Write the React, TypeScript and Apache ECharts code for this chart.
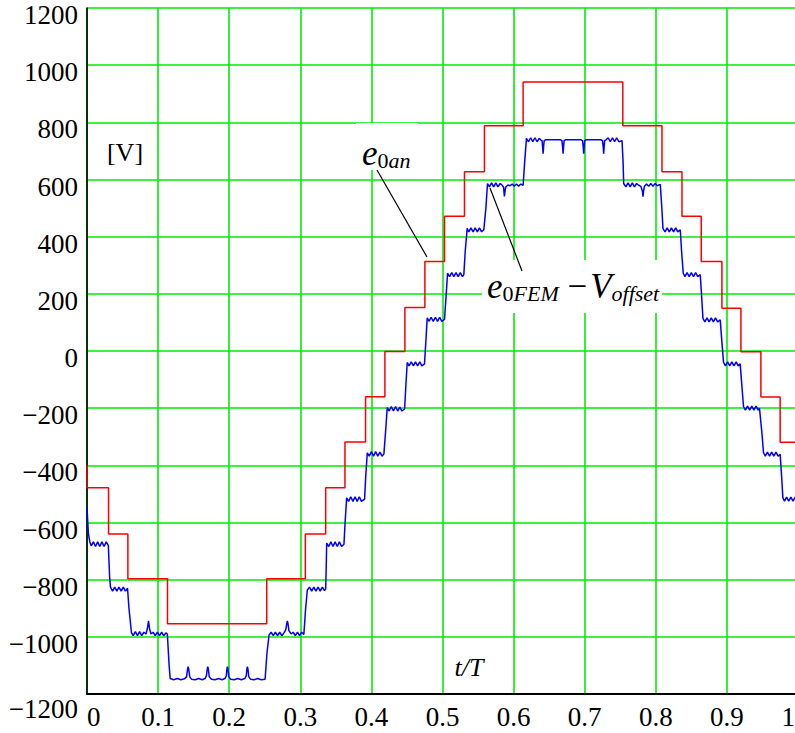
import React, { useEffect, useRef } from "react";
import * as echarts from "echarts";

// ---- axis ranges and tick labels ----
const X_MIN = 0;
const X_MAX = 1;
const X_STEP = 0.1;
const Y_MIN = -1200;
const Y_MAX = 1200;
const Y_STEP = 200;
const xTicks = [0, 0.1, 0.2, 0.3, 0.4, 0.5, 0.6, 0.7, 0.8, 0.9, 1];
const xTickLabels = ["0", "0.1", "0.2", "0.3", "0.4", "0.5", "0.6", "0.7", "0.8", "0.9", "1"];
const yTicks = [1200, 1000, 800, 600, 400, 200, 0, -200, -400, -600, -800, -1000, -1200];
const yTickLabels = ["1200", "1000", "800", "600", "400", "200", "0", "\u2212200", "\u2212400", "\u2212600", "\u2212800", "\u22121000", "\u22121200"];

// ---- e0an (red staircase) ----
const redStartValue = -400;
const redEdges = [
  0, 0.0303, 0.0575, 0.1132, 0.2528, 0.3071, 0.3357, 0.3628, 0.3918, 0.419,
  0.4471, 0.4752, 0.5028, 0.5309, 0.559, 0.6134, 0.7536, 0.8087, 0.8368,
  0.8639, 0.893, 0.9197, 0.9478, 0.9749, 1.0,
];
const redLevels = [
  -478, -640, -797, -954, -797, -640, -478, -318, -160, -2, 152, 313, 471,
  627, 788, 941, 788, 627, 471, 313, 150, -3, -161, -319,
];

// ---- e0FEM - Voffset (blue, read point by point) ----
const bluePoints: [number, number][] = [
  [0, -548], [0.002, -640], [0.004, -668],
  [0.006, -682], [0.009, -668], [0.012, -684], [0.015, -668], [0.018, -684], [0.021, -668], [0.024, -684], [0.027, -668], [0.03, -680],
  [0.0318, -790], [0.033, -826],
  [0.036, -840], [0.039, -826], [0.042, -840], [0.045, -826], [0.048, -840], [0.051, -826], [0.054, -840], [0.057, -830],
  [0.059, -900], [0.0625, -985],
  [0.065, -996], [0.068, -982], [0.071, -996], [0.074, -982], [0.077, -996], [0.08, -984], [0.083, -990], [0.085, -970], [0.0865, -944], [0.088, -972], [0.09, -990], [0.093, -984], [0.096, -996], [0.099, -984], [0.102, -996], [0.105, -984], [0.108, -996], [0.111, -986], [0.113, -990],
  [0.1155, -1100], [0.117, -1146],
  [0.122, -1150], [0.127, -1146], [0.132, -1150], [0.137, -1147], [0.14, -1140], [0.1415, -1112], [0.1422, -1104], [0.143, -1112], [0.1445, -1140], [0.147, -1148],
  [0.152, -1150], [0.157, -1146], [0.162, -1150], [0.166, -1146], [0.168, -1136], [0.1692, -1112], [0.1699, -1104], [0.1706, -1112], [0.172, -1140], [0.175, -1148],
  [0.18, -1150], [0.185, -1146], [0.19, -1150], [0.194, -1146], [0.196, -1136], [0.1968, -1112], [0.1975, -1104], [0.1982, -1112], [0.1995, -1140], [0.202, -1148],
  [0.207, -1150], [0.212, -1146], [0.217, -1150], [0.222, -1146], [0.224, -1136], [0.2249, -1112], [0.2256, -1104], [0.2263, -1112], [0.2276, -1140], [0.23, -1148],
  [0.235, -1150], [0.24, -1146], [0.245, -1150], [0.2505, -1148],
  [0.253, -1060], [0.256, -994],
  [0.259, -984], [0.262, -996], [0.265, -984], [0.268, -996], [0.271, -984], [0.274, -996], [0.277, -986], [0.2795, -976], [0.2808, -956], [0.2818, -944], [0.2828, -956], [0.284, -978], [0.287, -990], [0.29, -984], [0.293, -996], [0.296, -984], [0.299, -996], [0.302, -984], [0.305, -992],
  [0.3075, -900], [0.3099, -836],
  [0.313, -826], [0.316, -840], [0.319, -826], [0.322, -840], [0.325, -826], [0.328, -840], [0.331, -826], [0.334, -838], [0.3357, -832],
  [0.3365, -750], [0.3371, -672],
  [0.34, -684], [0.343, -668], [0.346, -684], [0.349, -668], [0.352, -684], [0.355, -668], [0.358, -684], [0.3614, -676],
  [0.363, -600], [0.3652, -514],
  [0.368, -526], [0.371, -510], [0.374, -526], [0.377, -510], [0.38, -526], [0.383, -510], [0.386, -526], [0.3904, -518],
  [0.392, -440], [0.3942, -356],
  [0.397, -368], [0.4, -352], [0.403, -368], [0.406, -352], [0.409, -368], [0.412, -354], [0.415, -368], [0.4176, -360],
  [0.42, -280], [0.4223, -198],
  [0.425, -210], [0.428, -194], [0.431, -210], [0.434, -194], [0.437, -210], [0.44, -196], [0.443, -210], [0.4467, -203],
  [0.4485, -120], [0.4504, -40],
  [0.453, -52], [0.456, -38], [0.459, -52], [0.462, -38], [0.465, -52], [0.468, -38], [0.471, -52], [0.4747, -45],
  [0.4765, 30], [0.4785, 116],
  [0.481, 104], [0.484, 118], [0.487, 104], [0.49, 118], [0.493, 104], [0.496, 118], [0.499, 104], [0.5028, 111],
  [0.505, 190], [0.5071, 272],
  [0.51, 260], [0.513, 274], [0.516, 260], [0.519, 274], [0.522, 260], [0.525, 274], [0.528, 260], [0.53, 267],
  [0.532, 350], [0.5347, 429],
  [0.537, 417], [0.54, 431], [0.543, 417], [0.546, 431], [0.549, 417], [0.552, 431], [0.555, 417], [0.5581, 424],
  [0.561, 500], [0.5633, 586],
  [0.566, 574], [0.569, 588], [0.572, 574], [0.575, 588], [0.578, 574], [0.581, 586], [0.584, 580], [0.586, 572], [0.5865, 555], [0.5871, 541], [0.5877, 555], [0.589, 574], [0.592, 581], [0.595, 578], [0.598, 584], [0.601, 576], [0.604, 584], [0.607, 576], [0.61, 584], [0.6134, 580],
  [0.6155, 660], [0.6181, 744],
  [0.621, 732], [0.624, 746], [0.627, 732], [0.63, 746], [0.633, 732], [0.636, 744], [0.638, 739], [0.64, 736], [0.6408, 715], [0.6415, 690], [0.6422, 715], [0.643, 736], [0.645, 739],
  [0.666, 739], [0.668, 736], [0.6689, 715], [0.6696, 690], [0.6703, 715], [0.671, 736], [0.673, 739],
  [0.695, 739], [0.697, 736], [0.6979, 715], [0.6986, 690], [0.6993, 715], [0.7, 736], [0.702, 739],
  [0.723, 739], [0.725, 736], [0.726, 715], [0.7267, 690], [0.7274, 715], [0.728, 736], [0.73, 739],
  [0.733, 746], [0.736, 732], [0.739, 746], [0.742, 732], [0.745, 746], [0.748, 732], [0.7525, 736],
  [0.754, 660], [0.7548, 586],
  [0.758, 574], [0.761, 588], [0.764, 574], [0.767, 588], [0.77, 574], [0.773, 586], [0.776, 580], [0.779, 576], [0.7813, 558], [0.782, 540], [0.7827, 558], [0.784, 576], [0.787, 584], [0.79, 576], [0.793, 586], [0.796, 576], [0.799, 586], [0.802, 578], [0.8063, 583],
  [0.8085, 500], [0.8101, 428],
  [0.813, 417], [0.816, 431], [0.819, 417], [0.822, 431], [0.825, 417], [0.828, 431], [0.831, 417], [0.8344, 424],
  [0.8365, 340], [0.8386, 272],
  [0.841, 260], [0.844, 274], [0.847, 260], [0.85, 274], [0.853, 260], [0.856, 274], [0.859, 260], [0.8625, 267],
  [0.8645, 190], [0.8663, 114],
  [0.869, 102], [0.872, 116], [0.875, 102], [0.878, 116], [0.881, 102], [0.884, 116], [0.887, 102], [0.8906, 109],
  [0.893, 30], [0.8953, -40],
  [0.898, -52], [0.901, -38], [0.904, -52], [0.907, -38], [0.91, -52], [0.913, -38], [0.916, -52], [0.9187, -45],
  [0.921, -120], [0.9234, -195],
  [0.926, -207], [0.929, -193], [0.932, -207], [0.935, -193], [0.938, -207], [0.941, -193], [0.944, -207], [0.9458, -200],
  [0.949, -280], [0.9515, -356],
  [0.954, -368], [0.957, -354], [0.96, -368], [0.963, -354], [0.966, -368], [0.969, -354], [0.972, -368], [0.9749, -361],
  [0.977, -440], [0.9787, -513],
  [0.981, -525], [0.984, -511], [0.987, -525], [0.99, -511], [0.993, -525], [0.996, -511], [1.0, -518],
];

const SERIF = "Liberation Serif";
const GRID_GREEN = "#00ee00";
const CHART_W = 795;

export default function App() {
  const ref = useRef<HTMLDivElement>(null);

  useEffect(() => {
    if (!ref.current) return;
    const chart = echarts.init(ref.current, undefined, { renderer: "svg" });

    const redData: [number, number][] = [[redEdges[0], redStartValue]];
    for (let i = 0; i < redLevels.length; i++) {
      redData.push([redEdges[i], redLevels[i]]);
      redData.push([redEdges[i + 1], redLevels[i]]);
    }

    chart.setOption({
      animation: false,
      backgroundColor: "#ffffff",
      grid: { left: 87, top: 8, width: 711, height: 686, containLabel: false, outerBoundsMode: "none" },
      xAxis: {
        type: "value",
        min: X_MIN,
        max: X_MAX,
        interval: X_STEP,
        axisLine: { show: true, onZero: false, lineStyle: { color: "#000", width: 2 } },
        axisTick: { show: false },
        axisLabel: { show: false },
        splitLine: { show: true, lineStyle: { color: GRID_GREEN, width: 1.6 } },
      },
      yAxis: {
        type: "value",
        min: Y_MIN,
        max: Y_MAX,
        interval: Y_STEP,
        axisLine: { show: true, onZero: false, lineStyle: { color: "#000", width: 1.6 } },
        axisTick: { show: false },
        axisLabel: { show: false },
        splitLine: { show: true, lineStyle: { color: GRID_GREEN, width: 1.6 } },
      },
      series: [
        {
          name: "e0FEM - Voffset",
          type: "line",
          data: bluePoints,
          symbol: "none",
          lineStyle: { color: "#0000ff", width: 1.5 },
          z: 3,
        },
        {
          name: "e0an",
          type: "line",
          data: redData,
          symbol: "none",
          lineStyle: { color: "#ff0000", width: 1.5 },
          z: 4,
        },
      ],
    });

    // tick labels placed through the axes' own scales
    const labelGraphics: any[] = [];
    xTicks.forEach((t, i) => {
      const [px, py] = chart.convertToPixel({ xAxisIndex: 0, yAxisIndex: 0 }, [t, Y_MIN]) as number[];
      const isFirst = i === 0;
      const isLast = i === xTicks.length - 1;
      labelGraphics.push({
        type: "text",
        x: isLast ? Math.min(px, CHART_W) : px,
        y: py + 23,
        z: 12,
        style: {
          text: xTickLabels[i],
          fontFamily: SERIF,
          fontSize: 27,
          fill: "#000",
          align: isFirst ? "left" : isLast ? "right" : "center",
          verticalAlign: "middle",
        },
      });
    });
    yTicks.forEach((v, i) => {
      const [px, py] = chart.convertToPixel({ xAxisIndex: 0, yAxisIndex: 0 }, [X_MIN, v]) as number[];
      const dy = v === Y_MIN ? 15 : 7;
      labelGraphics.push({
        type: "text",
        x: px - 9,
        y: py + dy,
        z: 12,
        style: {
          text: yTickLabels[i],
          fontFamily: SERIF,
          fontSize: 27,
          fill: "#000",
          align: "right",
          verticalAlign: "middle",
        },
      });
    });

    const sub = { fontFamily: SERIF, fontSize: 22, fontStyle: "italic" as const, color: "#000", lineHeight: 24, verticalAlign: "bottom" as const };
    const zero = { fontFamily: SERIF, fontSize: 22, color: "#000", lineHeight: 24, verticalAlign: "bottom" as const };
    const main = { fontFamily: SERIF, fontSize: 35, fontStyle: "italic" as const, color: "#000", lineHeight: 40, verticalAlign: "bottom" as const };
    const minus = { fontFamily: SERIF, fontSize: 35, color: "#000", lineHeight: 40, verticalAlign: "bottom" as const };

    chart.setOption({
      graphic: [
        { type: "rect", shape: { x: 356, y: 123, width: 62, height: 47 }, style: { fill: "#ffffff" }, z: 10 },
        { type: "rect", shape: { x: 482, y: 260, width: 180, height: 53 }, style: { fill: "#ffffff" }, z: 10 },
        { type: "line", shape: { x1: 377, y1: 170, x2: 427, y2: 257 }, style: { stroke: "#000", lineWidth: 1.2 }, z: 11 },
        { type: "line", shape: { x1: 490, y1: 188, x2: 522, y2: 271 }, style: { stroke: "#000", lineWidth: 1.2 }, z: 11 },
        {
          type: "text", x: 125, y: 152, z: 12,
          style: { text: "[V]", fontFamily: SERIF, fontSize: 26, fill: "#000", align: "center", verticalAlign: "middle" },
        },
        {
          type: "text", x: 469, y: 667, z: 12,
          style: { text: "t/T", fontFamily: SERIF, fontSize: 26, fontStyle: "italic", fill: "#000", align: "center", verticalAlign: "middle" },
        },
        {
          type: "text", x: 362, y: 171, z: 12,
          style: {
            text: "{e|e}{z|0}{s|an}",
            align: "left",
            verticalAlign: "bottom",
            rich: { e: main, z: zero, s: sub },
          },
        },
        {
          type: "text", x: 487, y: 304, z: 12,
          style: {
            text: "{e|e}{z|0}{s|FEM}{m| \u2212\u200A}{e|V}{s|offset}",
            align: "left",
            verticalAlign: "bottom",
            rich: { e: main, z: zero, s: sub, m: minus },
          },
        },
        ...labelGraphics,
      ],
    });

    return () => chart.dispose();
  }, []);

  return (
    <div
      ref={ref}
      style={{ position: "absolute", left: 0, top: 0, width: 795, height: 733, background: "#fff" }}
    />
  );
}
